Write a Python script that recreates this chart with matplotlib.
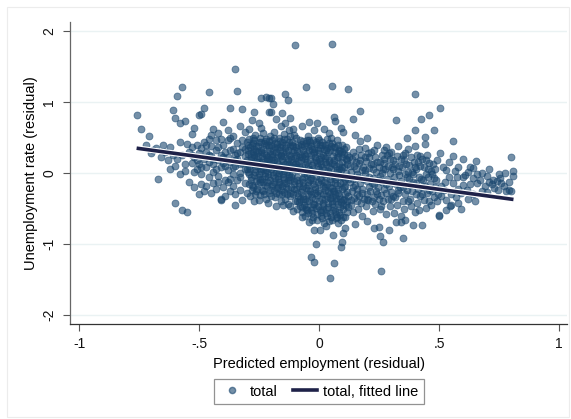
"""
    Scatter of unemployment residuals vs predicted employment residuals, with fitted line
"""
import numpy as np
from matplotlib import pyplot as plt
from matplotlib import patheffects as pe
from matplotlib.lines import Line2D

plt.rcParams['font.family'] = ['Liberation Sans', 'DejaVu Sans']

# -- points, grouped by x band --
far_left = [
    (-0.76, 0.81), (-0.74, 0.62), (-0.71, 0.52), (-0.72, 0.39), (-0.70, 0.28), (-0.67, -0.09),
    (-0.69, 0.33), (-0.66, 0.22), (-0.64, 0.30), (-0.63, 0.18), (-0.62, 0.37), (-0.61, 0.89),
    (-0.60, 0.77), (-0.59, 1.08), (-0.57, 1.21), (-0.58, 0.70), (-0.60, -0.42), (-0.57, -0.52),
    (-0.55, -0.55), (-0.62, 0.05), (-0.60, 0.10), (-0.58, 0.44), (-0.56, 0.73), (-0.57, 0.26),
    (-0.59, 0.20), (-0.56, 0.12), (-0.58, -0.02), (-0.55, 0.41), (-0.56, 0.03), (-0.61, 0.26),
    (-0.65, 0.40), (-0.68, 0.35),
]
left_side = [
    (-0.50, 0.81), (-0.48, 0.91), (-0.49, 0.83), (-0.46, 1.14), (-0.40, 0.72), (-0.37, 0.92),
    (-0.35, 1.47), (-0.34, 1.16), (-0.32, 0.90), (-0.44, 0.62), (-0.42, 0.56), (-0.52, 0.64),
    (-0.53, 0.55), (-0.46, 0.48), (-0.38, 0.60), (-0.33, 0.66), (-0.31, 0.58),
    (-0.54, 0.30), (-0.53, 0.14), (-0.52, 0.22), (-0.51, 0.40), (-0.51, 0.05), (-0.50, 0.28),
    (-0.50, 0.12), (-0.49, 0.35), (-0.49, -0.02), (-0.48, 0.20), (-0.48, 0.44), (-0.47, 0.08),
    (-0.47, 0.30), (-0.46, 0.16), (-0.46, -0.06), (-0.45, 0.38), (-0.45, 0.24), (-0.44, 0.02),
    (-0.44, 0.12), (-0.43, 0.32), (-0.43, 0.46), (-0.42, 0.18), (-0.42, -0.04), (-0.41, 0.26),
    (-0.41, 0.08), (-0.40, 0.40), (-0.40, 0.14), (-0.39, 0.30), (-0.39, -0.10), (-0.38, 0.22),
    (-0.38, 0.04), (-0.37, 0.50), (-0.37, 0.16), (-0.36, 0.34), (-0.36, -0.02), (-0.35, 0.26),
    (-0.35, 0.10), (-0.34, 0.42), (-0.34, 0.20), (-0.33, 0.00), (-0.33, 0.30), (-0.32, 0.14),
    (-0.32, 0.36), (-0.31, 0.24), (-0.31, 0.06), (-0.30, 0.44), (-0.30, 0.18), (-0.53, 0.36),
    (-0.52, 0.02), (-0.45, 0.54), (-0.41, 0.48), (-0.36, 0.52),
    (-0.54, -0.12), (-0.52, -0.20), (-0.50, -0.30), (-0.49, -0.16), (-0.48, -0.26), (-0.47, -0.18),
    (-0.45, -0.28), (-0.44, -0.14), (-0.43, -0.22), (-0.41, -0.37), (-0.40, -0.20), (-0.39, -0.33),
    (-0.38, -0.12), (-0.37, -0.26), (-0.36, -0.18), (-0.35, -0.30), (-0.34, -0.10), (-0.33, -0.24),
    (-0.32, -0.38), (-0.31, -0.14), (-0.30, -0.28), (-0.41, -0.38), (-0.35, -0.45),
    (-0.53, 0.26), (-0.51, 0.18), (-0.49, 0.08), (-0.47, 0.40), (-0.46, 0.26), (-0.44, 0.20),
    (-0.43, 0.06), (-0.42, 0.36), (-0.40, 0.22), (-0.39, 0.10), (-0.38, 0.46), (-0.37, 0.32),
    (-0.36, 0.08), (-0.35, 0.18), (-0.34, 0.28), (-0.33, 0.12), (-0.32, 0.46), (-0.31, 0.34),
    (-0.30, 0.06), (-0.33, -0.06), (-0.37, -0.08), (-0.42, -0.12),
]
core_left = [
    (-0.24, 1.05), (-0.22, 1.07), (-0.21, 1.05), (-0.20, 1.06), (-0.19, 0.97), (-0.14, 1.11),
    (-0.13, 1.03), (-0.10, 1.80), (-0.27, 0.86), (-0.21, 0.86), (-0.155, 0.85), (-0.20, 0.86),
    (-0.28, 0.74), (-0.25, 0.70), (-0.18, 0.76), (-0.12, 0.78), (-0.24, 0.64), (-0.16, 0.66),
    (-0.11, 0.62), (-0.29, 0.62), (-0.14, 0.70),
    (-0.292, 0.48), (-0.286, 0.36), (-0.295, 0.27), (-0.283, 0.18), (-0.290, 0.10), (-0.297, 0.02),
    (-0.285, -0.06), (-0.293, -0.15), (-0.281, -0.24), (-0.289, -0.33),
    (-0.266, 0.54), (-0.274, 0.42), (-0.262, 0.31), (-0.271, 0.22), (-0.278, 0.14), (-0.265, 0.06),
    (-0.273, -0.03), (-0.261, -0.11), (-0.276, -0.20), (-0.268, -0.29), (-0.272, -0.40),
    (-0.246, 0.50), (-0.254, 0.38), (-0.243, 0.29), (-0.257, 0.20), (-0.249, 0.11), (-0.241, 0.03),
    (-0.253, -0.05), (-0.247, -0.13), (-0.258, -0.22), (-0.244, -0.31), (-0.251, -0.38),
    (-0.233, 0.56), (-0.226, 0.45), (-0.235, 0.34), (-0.222, 0.25), (-0.238, 0.16), (-0.229, 0.08),
    (-0.224, 0.00), (-0.236, -0.08), (-0.227, -0.17), (-0.232, -0.26), (-0.221, -0.36),
    (-0.206, 0.52), (-0.214, 0.40), (-0.203, 0.31), (-0.217, 0.23), (-0.209, 0.13), (-0.201, 0.05),
    (-0.212, -0.02), (-0.205, -0.10), (-0.216, -0.19), (-0.208, -0.28), (-0.213, -0.42),
    (-0.186, 0.58), (-0.194, 0.47), (-0.183, 0.36), (-0.197, 0.27), (-0.189, 0.18), (-0.181, 0.09),
    (-0.192, 0.01), (-0.185, -0.07), (-0.196, -0.15), (-0.188, -0.24), (-0.182, -0.34), (-0.18, -0.46),
    (-0.166, 0.50), (-0.174, 0.41), (-0.163, 0.32), (-0.177, 0.22), (-0.169, 0.12), (-0.161, 0.04),
    (-0.172, -0.04), (-0.165, -0.12), (-0.176, -0.21), (-0.168, -0.30), (-0.16, -0.40),
    (-0.146, 0.55), (-0.154, 0.44), (-0.143, 0.35), (-0.157, 0.26), (-0.149, 0.16), (-0.141, 0.07),
    (-0.152, -0.01), (-0.145, -0.09), (-0.156, -0.18), (-0.148, -0.27), (-0.142, -0.37), (-0.151, -0.45),
    (-0.126, 0.60), (-0.134, 0.48), (-0.123, 0.38), (-0.137, 0.29), (-0.129, 0.20), (-0.121, 0.10),
    (-0.132, 0.02), (-0.125, -0.06), (-0.136, -0.14), (-0.128, -0.23), (-0.122, -0.33), (-0.131, -0.43),
    (-0.12, -0.47),
    (-0.106, 0.53), (-0.114, 0.43), (-0.103, 0.33), (-0.117, 0.24), (-0.109, 0.15), (-0.101, 0.06),
    (-0.112, -0.02), (-0.105, -0.11), (-0.116, -0.20), (-0.108, -0.29), (-0.102, -0.39), (-0.11, -0.53),
    (-0.280, 0.40), (-0.270, 0.26), (-0.260, 0.10), (-0.250, -0.02), (-0.240, 0.33), (-0.230, 0.20),
    (-0.220, 0.04), (-0.210, 0.36), (-0.200, 0.18), (-0.190, -0.03), (-0.180, 0.30), (-0.170, 0.08),
    (-0.160, 0.24), (-0.150, -0.05), (-0.140, 0.12), (-0.130, 0.33), (-0.120, -0.10), (-0.115, 0.20),
    (-0.255, 0.24), (-0.235, -0.12), (-0.195, -0.19), (-0.175, 0.16), (-0.155, 0.39), (-0.135, 0.05),
    (-0.285, 0.22), (-0.265, 0.02), (-0.225, 0.12), (-0.205, 0.27), (-0.165, -0.16), (-0.125, 0.25),
    (-0.298, 0.32), (-0.288, 0.05), (-0.282, -0.10), (-0.277, 0.30), (-0.269, 0.46), (-0.263, -0.25),
    (-0.259, 0.15), (-0.252, 0.44), (-0.245, -0.08), (-0.239, 0.24), (-0.234, 0.06), (-0.228, -0.30),
    (-0.223, 0.39), (-0.218, 0.17), (-0.211, -0.06), (-0.207, 0.45), (-0.202, -0.33), (-0.198, 0.22),
    (-0.193, 0.10), (-0.187, -0.12), (-0.184, 0.42), (-0.179, -0.28), (-0.173, 0.26), (-0.167, 0.00),
    (-0.162, 0.37), (-0.158, -0.24), (-0.153, 0.20), (-0.147, 0.03), (-0.144, 0.48), (-0.139, -0.20),
    (-0.133, 0.15), (-0.127, -0.02), (-0.124, 0.43), (-0.119, -0.28), (-0.113, 0.09), (-0.107, 0.38),
    (-0.104, -0.15), (-0.101, 0.21),
    (-0.29, 0.14), (-0.27, 0.34), (-0.25, 0.16), (-0.23, 0.42), (-0.21, 0.09), (-0.19, 0.32),
    (-0.17, -0.08), (-0.15, 0.30), (-0.13, -0.10), (-0.11, 0.30),
    (-0.295, 0.40), (-0.291, -0.02), (-0.284, 0.28), (-0.279, -0.17), (-0.275, 0.50), (-0.267, 0.12),
    (-0.264, 0.38), (-0.256, -0.16), (-0.253, 0.30), (-0.248, 0.05), (-0.242, 0.44), (-0.237, -0.24),
    (-0.231, 0.28), (-0.226, -0.04), (-0.219, 0.48), (-0.215, -0.12), (-0.210, 0.20), (-0.204, -0.24),
    (-0.199, 0.40), (-0.191, 0.14), (-0.187, 0.50), (-0.178, 0.02), (-0.175, 0.35), (-0.171, -0.20),
    (-0.164, 0.45), (-0.159, 0.10), (-0.154, -0.30), (-0.148, 0.24), (-0.144, -0.14), (-0.138, 0.40),
    (-0.132, -0.30), (-0.127, 0.12), (-0.121, 0.52), (-0.117, -0.06), (-0.111, 0.40), (-0.106, -0.22),
    (-0.100, 0.12),
]
core_mid = [
    (0.053, 1.82), (-0.053, 1.21), (0.056, 1.23), (0.12, 1.18), (-0.04, 0.72), (-0.01, 0.70),
    (0.063, 0.79), (0.067, 0.73), (-0.07, 0.66), (0.02, 0.62), (0.09, 0.64), (0.10, 0.58),
    (-0.02, 0.60), (0.04, 0.56),
    (0.046, -1.48), (-0.033, -1.18), (-0.02, -1.26), (0.064, -1.27), (-0.012, -1.00), (0.09, -1.04),
    (0.096, -0.97), (0.06, -0.88), (0.10, -0.85), (0.11, -0.78), (-0.02, -0.80), (0.004, -0.80),
    (-0.07, -0.62), (-0.04, -0.69), (0.03, -0.74), (0.08, -0.70),
    (-0.094, 0.50), (-0.086, 0.40), (-0.091, 0.31), (-0.083, 0.22), (-0.097, 0.13), (-0.088, 0.04),
    (-0.092, -0.05), (-0.085, -0.14), (-0.096, -0.23), (-0.089, -0.32), (-0.082, -0.41), (-0.093, -0.50),
    (-0.066, 0.45), (-0.074, 0.36), (-0.063, 0.27), (-0.077, 0.18), (-0.069, 0.09), (-0.061, 0.00),
    (-0.072, -0.09), (-0.065, -0.18), (-0.076, -0.27), (-0.068, -0.36), (-0.062, -0.45), (-0.073, -0.55),
    (-0.046, 0.52), (-0.054, 0.42), (-0.043, 0.33), (-0.057, 0.24), (-0.049, 0.15), (-0.041, 0.06),
    (-0.052, -0.03), (-0.045, -0.12), (-0.056, -0.21), (-0.048, -0.30), (-0.042, -0.39), (-0.053, -0.48),
    (-0.047, -0.57),
    (-0.026, 0.47), (-0.034, 0.38), (-0.023, 0.29), (-0.037, 0.20), (-0.029, 0.11), (-0.021, 0.02),
    (-0.032, -0.07), (-0.025, -0.16), (-0.036, -0.25), (-0.028, -0.34), (-0.022, -0.43), (-0.033, -0.52),
    (-0.027, -0.62),
    (-0.006, 0.50), (-0.014, 0.41), (-0.003, 0.32), (-0.017, 0.23), (-0.009, 0.14), (-0.001, 0.05),
    (-0.012, -0.04), (-0.005, -0.13), (-0.016, -0.22), (-0.008, -0.31), (-0.002, -0.40), (-0.013, -0.49),
    (-0.007, -0.58),
    (0.014, 0.44), (0.006, 0.35), (0.017, 0.26), (0.003, 0.17), (0.011, 0.08), (0.019, -0.01),
    (0.008, -0.10), (0.015, -0.19), (0.004, -0.28), (0.012, -0.37), (0.018, -0.46), (0.007, -0.55),
    (0.013, -0.64),
    (0.034, 0.48), (0.026, 0.39), (0.037, 0.30), (0.023, 0.21), (0.031, 0.12), (0.039, 0.03),
    (0.028, -0.06), (0.035, -0.15), (0.024, -0.24), (0.032, -0.33), (0.038, -0.42), (0.027, -0.51),
    (0.033, -0.60),
    (0.054, 0.42), (0.046, 0.33), (0.057, 0.24), (0.043, 0.15), (0.051, 0.06), (0.059, -0.03),
    (0.048, -0.12), (0.055, -0.21), (0.044, -0.30), (0.052, -0.39), (0.058, -0.48), (0.047, -0.57),
    (0.053, -0.66),
    (0.074, 0.46), (0.066, 0.37), (0.077, 0.28), (0.063, 0.19), (0.071, 0.10), (0.079, 0.01),
    (0.068, -0.08), (0.075, -0.17), (0.064, -0.26), (0.072, -0.35), (0.078, -0.44), (0.067, -0.53),
    (0.073, -0.62),
    (0.094, 0.40), (0.086, 0.31), (0.097, 0.22), (0.083, 0.13), (0.091, 0.04), (0.099, -0.05),
    (0.088, -0.14), (0.095, -0.23), (0.084, -0.32), (0.092, -0.41), (0.098, -0.50), (0.087, -0.59),
    (0.114, 0.36), (0.106, 0.27), (0.117, 0.18), (0.103, 0.09), (0.111, 0.00), (0.119, -0.09),
    (0.108, -0.18), (0.115, -0.27), (0.104, -0.36), (0.112, -0.45), (0.118, -0.55),
    (-0.08, 0.27), (-0.06, 0.12), (-0.04, -0.02), (-0.02, 0.34), (0.00, 0.20), (0.02, -0.12),
    (0.04, 0.08), (0.06, -0.25), (0.08, 0.23), (0.10, -0.38), (-0.085, -0.18), (-0.065, -0.32),
    (-0.045, 0.38), (-0.025, -0.44), (-0.005, 0.10), (0.015, -0.30), (0.035, 0.35), (0.055, -0.44),
    (0.075, -0.05), (0.095, 0.16), (0.105, -0.20), (-0.095, 0.08), (-0.075, 0.41), (-0.055, -0.50),
    (-0.035, 0.25), (-0.015, -0.20), (0.005, -0.52), (0.025, 0.15), (0.045, -0.35), (0.065, 0.30),
    (0.085, -0.55), (0.012, 0.40), (-0.06, -0.60), (0.04, -0.68), (0.07, -0.64), (0.02, -0.70),
    (-0.03, -0.66), (0.10, -0.62), (0.12, -0.48), (0.115, 0.12),
    (-0.098, 0.36), (-0.093, -0.10), (-0.087, 0.17), (-0.081, -0.36), (-0.078, 0.06), (-0.071, -0.22),
    (-0.067, 0.32), (-0.064, -0.05), (-0.058, 0.20), (-0.051, -0.40), (-0.048, 0.10), (-0.044, -0.17),
    (-0.038, 0.43), (-0.035, -0.30), (-0.031, 0.06), (-0.024, -0.10), (-0.019, 0.28), (-0.015, -0.36),
    (-0.011, 0.18), (-0.004, -0.26), (0.002, 0.39), (0.005, -0.07), (0.009, 0.22), (0.016, -0.42),
    (0.021, 0.04), (0.025, -0.20), (0.029, 0.33), (0.036, -0.48), (0.041, 0.18), (0.045, -0.08),
    (0.049, 0.38), (0.056, -0.34), (0.061, 0.13), (0.065, -0.14), (0.069, -0.40), (0.076, 0.22),
    (0.081, -0.28), (0.085, 0.05), (0.089, -0.48), (0.096, 0.30), (0.101, -0.12), (0.107, -0.30),
    (0.113, 0.20), (0.118, -0.40),
    (-0.09, -0.40), (-0.07, -0.48), (-0.05, -0.52), (-0.03, -0.56), (-0.01, -0.66), (0.01, -0.60),
    (0.03, -0.56), (0.05, -0.62), (0.07, -0.58), (0.09, -0.66), (0.11, -0.62), (-0.08, 0.46),
    (-0.05, 0.47), (0.00, 0.46), (0.05, 0.50), (0.08, 0.40),
    (-0.096, 0.26), (-0.091, -0.28), (-0.084, 0.09), (-0.079, -0.47), (-0.073, 0.22), (-0.068, -0.12),
    (-0.062, 0.38), (-0.057, -0.36), (-0.052, 0.28), (-0.046, -0.24), (-0.041, 0.46), (-0.037, -0.10),
    (-0.031, 0.34), (-0.027, -0.48), (-0.022, 0.16), (-0.018, -0.28), (-0.011, 0.44), (-0.006, -0.46),
    (0.000, 0.28), (0.004, -0.16), (0.010, 0.12), (0.015, -0.52), (0.020, 0.34), (0.026, -0.36),
    (0.030, 0.24), (0.036, -0.26), (0.041, 0.42), (0.047, -0.20), (0.052, 0.14), (0.058, -0.52),
    (0.062, 0.36), (0.068, -0.30), (0.073, 0.04), (0.078, -0.22), (0.083, 0.32), (0.089, -0.36),
    (0.094, 0.08), (0.100, -0.45), (0.105, 0.34), (0.110, -0.08), (0.116, 0.26), (0.120, -0.32),
]
right_side = [
    (0.40, 1.11), (0.504, 0.92), (0.456, 0.82), (0.425, 0.76), (0.32, 0.74), (0.172, 0.87),
    (0.142, 0.76), (0.40, 0.61), (0.48, 0.61), (0.44, 0.51), (0.365, 0.49), (0.44, 0.41),
    (0.40, 0.38), (0.37, 0.34), (0.33, 0.38), (0.15, 0.535), (0.20, 0.50), (0.17, 0.45),
    (0.24, 0.40), (0.28, 0.36),
    (0.26, -1.38), (0.265, -0.97), (0.254, -0.89), (0.35, -0.91), (0.43, -0.73), (0.50, -0.59),
    (0.20, -0.68), (0.23, -0.78), (0.25, -0.76), (0.29, -0.80), (0.32, -0.69), (0.34, -0.69),
    (0.36, -0.66), (0.39, -0.73), (0.15, -0.72), (0.18, -0.60),
    (0.143, 0.30), (0.136, 0.20), (0.147, 0.10), (0.133, 0.01), (0.141, -0.08), (0.149, -0.17),
    (0.138, -0.26), (0.145, -0.35), (0.134, -0.45), (0.142, -0.55),
    (0.174, 0.25), (0.166, 0.14), (0.177, 0.04), (0.163, -0.05), (0.171, -0.14), (0.179, -0.23),
    (0.168, -0.32), (0.175, -0.42), (0.164, -0.50),
    (0.204, 0.28), (0.196, 0.17), (0.207, 0.07), (0.193, -0.02), (0.201, -0.11), (0.209, -0.20),
    (0.198, -0.29), (0.205, -0.38), (0.194, -0.47),
    (0.234, 0.22), (0.226, 0.12), (0.237, 0.02), (0.223, -0.07), (0.231, -0.16), (0.239, -0.25),
    (0.228, -0.34), (0.235, -0.44), (0.224, -0.54),
    (0.264, 0.26), (0.256, 0.15), (0.267, 0.05), (0.253, -0.04), (0.261, -0.13), (0.269, -0.22),
    (0.258, -0.31), (0.265, -0.40), (0.254, -0.50),
    (0.294, 0.20), (0.286, 0.10), (0.297, 0.00), (0.283, -0.09), (0.291, -0.18), (0.299, -0.27),
    (0.288, -0.37), (0.295, -0.47),
    (0.324, 0.24), (0.316, 0.13), (0.327, 0.03), (0.313, -0.06), (0.321, -0.15), (0.329, -0.24),
    (0.318, -0.34), (0.325, -0.45), (0.314, -0.56),
    (0.354, 0.18), (0.346, 0.08), (0.357, -0.02), (0.343, -0.11), (0.351, -0.20), (0.359, -0.29),
    (0.348, -0.39), (0.355, -0.50),
    (0.384, 0.22), (0.376, 0.11), (0.387, 0.01), (0.373, -0.08), (0.381, -0.17), (0.389, -0.26),
    (0.378, -0.36), (0.385, -0.46),
    (0.414, 0.15), (0.406, 0.05), (0.417, -0.05), (0.403, -0.14), (0.411, -0.23), (0.419, -0.32),
    (0.408, -0.42), (0.415, -0.52),
    (0.444, 0.19), (0.436, 0.09), (0.447, -0.01), (0.433, -0.10), (0.441, -0.19), (0.449, -0.28),
    (0.438, -0.38), (0.445, -0.49),
    (0.474, 0.13), (0.466, 0.03), (0.477, -0.07), (0.463, -0.16), (0.471, -0.25), (0.479, -0.34),
    (0.468, -0.45),
    (0.155, 0.05), (0.185, -0.09), (0.215, 0.12), (0.245, -0.20), (0.275, 0.05), (0.305, -0.12),
    (0.335, 0.10), (0.365, -0.06), (0.395, 0.16), (0.425, -0.09), (0.455, 0.06), (0.485, -0.20),
    (0.16, -0.30), (0.22, -0.40), (0.28, -0.58), (0.34, -0.60), (0.40, -0.55), (0.46, -0.40),
    (0.19, 0.35), (0.27, 0.32), (0.36, 0.28), (0.42, 0.24), (0.49, 0.18), (0.30, 0.30),
    (0.125, 0.22), (0.13, -0.12), (0.135, -0.38), (0.152, 0.16), (0.158, -0.02), (0.16, -0.22),
    (0.168, 0.34), (0.182, 0.08), (0.186, -0.36), (0.19, 0.22), (0.21, -0.06), (0.212, -0.25),
    (0.218, 0.30), (0.225, 0.05), (0.242, 0.16), (0.248, -0.10), (0.25, -0.36), (0.262, 0.00),
    (0.272, 0.20), (0.278, -0.28), (0.284, 0.25), (0.302, 0.08), (0.308, -0.32), (0.31, 0.18),
    (0.332, -0.03), (0.338, -0.20), (0.34, 0.20), (0.362, 0.12), (0.368, -0.24), (0.372, 0.02),
    (0.392, -0.12), (0.398, 0.08), (0.402, -0.30), (0.422, 0.10), (0.428, -0.20), (0.43, 0.20),
    (0.452, -0.05), (0.458, -0.24), (0.46, 0.14), (0.482, 0.06), (0.488, -0.10), (0.495, -0.30),
    (0.13, 0.10), (0.14, -0.20), (0.15, 0.24), (0.16, -0.40), (0.17, 0.18), (0.18, -0.28),
    (0.19, 0.04), (0.20, -0.36), (0.21, 0.22), (0.22, -0.14), (0.23, 0.32), (0.24, -0.30),
    (0.25, 0.08), (0.26, -0.46), (0.27, 0.14), (0.28, -0.16), (0.29, 0.28), (0.30, -0.36),
    (0.31, 0.05), (0.33, -0.28), (0.35, 0.26), (0.37, -0.40), (0.39, -0.02), (0.41, 0.26),
    (0.43, -0.30), (0.45, 0.26), (0.47, -0.02), (0.49, -0.40),
]
far_right = [
    (0.80, 0.23), (0.81, 0.03), (0.806, -0.04), (0.775, 0.00), (0.79, -0.24), (0.80, -0.25),
    (0.78, -0.25), (0.654, 0.17), (0.63, 0.09), (0.59, -0.51), (0.55, -0.45), (0.546, -0.47),
    (0.50, -0.61), (0.73, -0.21), (0.745, -0.24), (0.70, -0.04), (0.71, -0.12), (0.725, -0.10),
    (0.754, -0.075), (0.76, -0.145), (0.67, -0.10), (0.657, -0.145), (0.643, -0.075), (0.61, -0.03),
    (0.60, -0.17), (0.615, -0.24), (0.62, -0.36), (0.58, 0.09), (0.567, 0.03), (0.574, -0.05),
    (0.56, -0.145), (0.54, 0.16), (0.53, 0.04), (0.525, -0.12), (0.52, -0.24), (0.51, -0.33),
    (0.557, 0.45), (0.69, -0.18), (0.68, -0.26), (0.64, -0.30), (0.60, -0.06), (0.59, -0.28),
    (0.57, -0.34), (0.54, -0.06), (0.53, -0.38), (0.515, 0.08), (0.62, 0.02), (0.66, -0.02),
    (0.72, -0.16), (0.74, -0.11), (0.77, -0.18), (0.79, -0.12), (0.70, -0.27), (0.63, -0.16),
    (0.58, -0.22), (0.55, -0.29), (0.51, -0.18), (0.56, 0.24), (0.60, 0.20), (0.64, 0.07),
    (0.68, 0.00), (0.75, -0.02), (0.71, 0.05), (0.53, -0.52), (0.58, -0.42), (0.65, -0.40),
    (0.505, 0.28),
]

# -- fitted line coefficients --
fit_slope = -0.46
fit_intercept = 0.0

x_ticks = [-1, -0.5, 0, 0.5, 1]
x_tick_labels = ['-1', '-.5', '0', '.5', '1']
y_ticks = [-2, -1, 0, 1, 2]
y_tick_labels = ['-2', '-1', '0', '1', '2']

# -- combine the bands --
pts = np.array(far_left + left_side + core_left + core_mid + right_side + far_right)
x, y = pts[:, 0], pts[:, 1]

marker_col = '#1a476f'
line_col = '#1e2148'

fig = plt.figure(figsize=(5.71, 4.19), dpi=100)
fig.patches.append(plt.Rectangle((0.012, 0.004), 0.984, 0.98, transform=fig.transFigure,
                                 fill=False, edgecolor='#ececec', linewidth=0.8))
ax = fig.add_axes([0.1226, 0.2267, 0.8704, 0.7208])

ax.scatter(x, y, s=25, color=marker_col, alpha=0.6, linewidths=0.6, zorder=2)

# -- fitted line over the range of x --
x_fit = np.array([x.min(), x.max()])
y_fit = fit_intercept + fit_slope * x_fit
ax.plot(x_fit, y_fit, color=line_col, linewidth=2.6, solid_capstyle='butt', zorder=3,
        path_effects=[pe.Stroke(linewidth=4.2, foreground='white'), pe.Normal()])

ax.set_xlim(-1.0375, 1.033)
ax.set_ylim(-2.127, 2.127)
ax.set_xticks(x_ticks)
ax.set_xticklabels(x_tick_labels)
ax.set_yticks(y_ticks)
ax.set_yticklabels(y_tick_labels, rotation=90, va='center')
ax.tick_params(axis='both', direction='out', length=5, width=0.8, color='#555555',
               labelsize=10, labelcolor='#111111')
ax.tick_params(axis='y', pad=5)
ax.tick_params(axis='x', pad=4)

ax.grid(axis='y', color='#eaf2f3', linewidth=1.0, zorder=0)
ax.set_axisbelow(True)
for side in ['top', 'right']:
    ax.spines[side].set_visible(False)
ax.spines['left'].set_color('#666666')
ax.spines['bottom'].set_color('#333333')
ax.spines['left'].set_linewidth(0.9)
ax.spines['bottom'].set_linewidth(0.9)

ax.set_xlabel('Predicted employment (residual)', fontsize=10.5, labelpad=5)
ax.set_ylabel('Unemployment rate (residual)', fontsize=10.5)
ax.yaxis.set_label_coords(-0.064, 0.5)

# -- legend below the plot --
handles = [
    Line2D([], [], linestyle='none', marker='o', markersize=4.5, color=marker_col, alpha=0.6),
    Line2D([], [], color=line_col, linewidth=2.6),
]
leg = fig.legend(handles, ['total', 'total, fitted line'], loc='center',
                 bbox_to_anchor=(0.5587, 0.0656), ncol=2, fontsize=10.5, frameon=True,
                 fancybox=False, edgecolor='#777777', handlelength=1.7, handletextpad=0.4,
                 columnspacing=1.0, borderpad=0.35)
leg.get_frame().set_linewidth(0.9)

fig.savefig('out.png', dpi=100)
